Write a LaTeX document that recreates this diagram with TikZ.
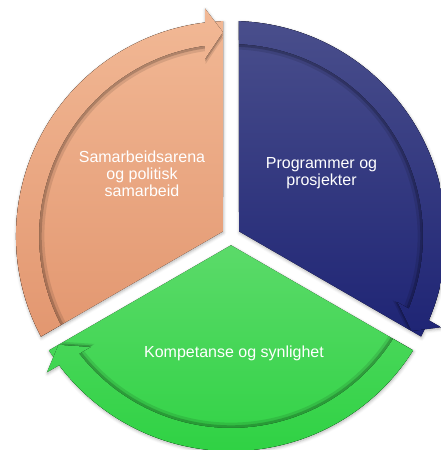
\documentclass[tikz,border=0pt]{standalone}
\usepackage{fontspec}
\setmainfont{Liberation Sans}
\usetikzlibrary{shadows.blur}
\definecolor{salmonT}{HTML}{F2B996}
\definecolor{salmonB}{HTML}{E2966F}
\definecolor{navyT}{HTML}{4A4F8C}
\definecolor{navyB}{HTML}{1D2374}
\definecolor{greenT}{HTML}{5EDB6C}
\definecolor{greenB}{HTML}{2BD140}
\newcommand\wedgepath[1]{(#1+150:9.24) -- (#1+207.87:215) arc[start angle=#1+207.87, end angle=#1+92.13, radius=215] -- cycle}
\newcommand\bandpath[1]{(#1+207.61:192) -- (#1+207.87:215) arc[start angle=#1+207.87, end angle=#1+96.94, radius=215] -- (#1+96.52:229) -- (#1+92.25:204) -- (#1+98.35:179) -- (#1+97.78:192) arc[start angle=#1+97.78, end angle=#1+207.61, radius=192] -- cycle}
\tikzset{
  salmonfill/.style={path picture={\fill[top color=salmonT,bottom color=salmonB] (-240,-110) rectangle (240,235);}},
  navyfill/.style={path picture={\fill[top color=navyT,bottom color=navyB] (-240,-110) rectangle (240,220);}},
  greenfill/.style={path picture={\fill[top color=greenT,bottom color=greenB] (-240,-236) rectangle (240,5);}},
  dropshadow/.style={blur shadow={shadow xshift=0.5pt,shadow yshift=-1.5pt,shadow blur radius=3pt,shadow opacity=30}},
  innershadowA/.style={fill=black,opacity=0.10,scale=0.972},
  innershadowB/.style={fill=black,opacity=0.18,scale=0.986},
  label/.style={text=white,align=center,font=\fontsize{16}{17}\selectfont}
}
\newcommand\segment[2]{%
  \path[dropshadow] \wedgepath{#1} \bandpath{#1};
  \path[#2] \wedgepath{#1};
  \path[innershadowA] \bandpath{#1};
  \path[innershadowB] \bandpath{#1};
  \path[#2] \bandpath{#1};
}
\begin{document}
\begin{tikzpicture}[x=1pt,y=1pt]
\useasboundingbox (-231,-214) rectangle (209,236);
\segment{0}{salmonfill}
\segment{-120}{navyfill}
\segment{-240}{greenfill}
\node[label] (t1) at (-89,62) {Samarbeidsarena\\og politisk\\samarbeid};
\node[label] (t2) at (90.5,62.5) {Programmer og\\prosjekter};
\node[label] (t3) at (3,-117) {Kompetanse og synlighet};
\end{tikzpicture}
\end{document}
